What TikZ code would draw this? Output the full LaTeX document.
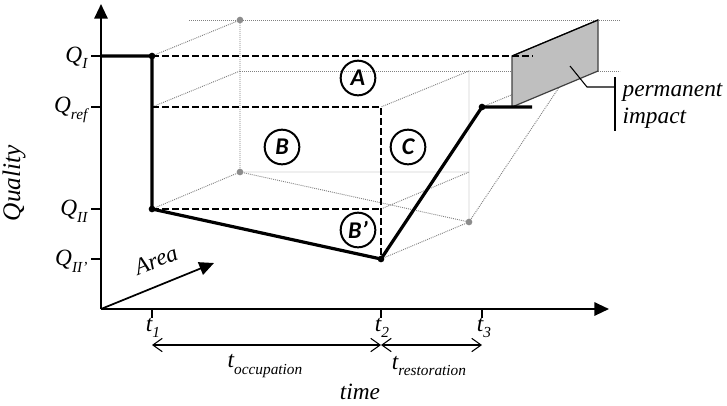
\documentclass[tikz,border=0pt]{standalone}
\usepackage{fontspec}
\setmainfont{Liberation Serif}
\newfontfamily\circfont{Carlito}
\usetikzlibrary{arrows.meta}
% lowered, smaller index text
\newcommand\idx[1]{\raisebox{-0.28em}{\fontsize{11.5}{11.5}\selectfont #1}}
\begin{document}
\begin{tikzpicture}[x=0.75pt,y=-0.75pt,
  axis/.style={line width=1.5pt,-{Triangle[length=11pt,width=10pt]}},
  curve/.style={line width=2.4pt,line join=miter},
  guide/.style={line width=1.2pt,dash pattern=on 5pt off 2.5pt},
  hidden/.style={black!50,line width=0.7pt,dash pattern=on 0.7pt off 0.8pt},
  tick/.style={line width=2pt},
  span/.style={line width=0.8pt,{Straight Barb[length=7pt,width=10pt]}-{Straight Barb[length=7pt,width=10pt]}},
  circ/.style={circle,draw,line width=1.5pt,minimum size=26pt,inner sep=0pt,
    font=\circfont\bfseries\itshape\fontsize{18}{18}\selectfont},
  lbl/.style={inner sep=1pt,font=\itshape\fontsize{17.5}{20}\selectfont},
  dot/.style={circle,fill=black,minimum size=5pt,inner sep=0pt},
  gdot/.style={circle,fill=black!45,minimum size=5pt,inner sep=0pt},
]
\useasboundingbox (0,0) rectangle (727,405);

% axes origin and ends
\coordinate (O) at (101,309);
\coordinate (ytop) at (101,4);
\coordinate (xend) at (609,309);
\coordinate (atip) at (214,263);

% quality path (front face)
\coordinate (p0) at (101,56);
\coordinate (p1) at (152,56);
\coordinate (p2) at (152,209);
\coordinate (p3) at (381,259);
\coordinate (p4) at (482,107);
\coordinate (p5) at (532,107);
\coordinate (qr1) at (152,107);
\coordinate (m2) at (381,107);
\coordinate (n2) at (381,209);
\coordinate (qiend) at (533,56);

% back face, shifted in depth
\coordinate (b1) at (240,20);
\coordinate (br) at (240,71);
\coordinate (b2) at (240,172);
\coordinate (b3) at (469,222);
\coordinate (bm2) at (469,71);
\coordinate (bn2) at (469,172);
\coordinate (b4) at (570,71);
\coordinate (topL) at (189,20);
\coordinate (topR) at (620,20);
\coordinate (midR) at (620,71);

% hidden edges of the box
\draw[hidden] (topL) -- (topR);
\draw[hidden] (br) -- (midR);
\draw[hidden] (p1) -- (b1) -- (b2);
\draw[hidden] (qr1) -- (br);
\draw[hidden] (p2) -- (b2) -- (bn2);
\draw[hidden] (b2) -- (b3);
\draw[hidden] (p3) -- (b3) -- (bm2) -- (m2);
\draw[hidden] (n2) -- (bn2);
\draw[hidden] (b3) -- (b4);
\draw[hidden] (p4) -- (b4);

% permanent impact face
\coordinate (f1) at (512,56);
\coordinate (f2) at (598,20);
\coordinate (f3) at (598,71);
\coordinate (f4) at (512,107);
\draw[fill=black!25,draw=black!75,line width=0.9pt] (f1) -- (f2) -- (f3) -- (f4) -- cycle;
\draw[line width=0.9pt] (f1) -- (f2);

\node[gdot] (g1) at (b1) {};
\node[gdot] (g2) at (b2) {};
\node[gdot] (g3) at (b3) {};

% reference levels
\draw[guide] (p1) -- (qiend);
\draw[guide] (qr1) -- (m2) -- (p3);
\draw[guide] (p2) -- (n2);

% axes
\draw[axis] (O) -- (ytop);
\draw[axis] (O) -- (xend);
\draw[line width=1.3pt,-{Triangle[length=11pt,width=10pt]}] (O) -- (atip);

% quality curve
\draw[curve] (p0) -- (p1) -- (p2) -- (p3) -- (p4) -- (p5);
\node[dot] (d1) at (p1) {};
\node[dot] (d2) at (p2) {};
\node[dot] (d3) at (p3) {};
\node[dot] (d4) at (p4) {};

% ticks on quality axis
\coordinate (yq1) at (91,56);   \coordinate (ay1) at (101,56);
\coordinate (yq2) at (91,107);  \coordinate (ay2) at (101,107);
\coordinate (yq3) at (91,209);  \coordinate (ay3) at (101,209);
\coordinate (yq4) at (91,259);  \coordinate (ay4) at (101,259);
\draw[tick] (yq1) -- (ay1);
\draw[tick] (yq2) -- (ay2);
\draw[tick] (yq3) -- (ay3);
\draw[tick] (yq4) -- (ay4);
\node[lbl,anchor=east] (QI) at (89,58) {Q\idx{I}};
\node[lbl,anchor=east] (Qref) at (89,110) {Q\idx{ref}};
\node[lbl,anchor=east] (QII) at (89,211) {Q\idx{II}};
\node[lbl,anchor=east] (QIIp) at (89,261) {Q\idx{II’}};

% ticks on time axis
\coordinate (tx1) at (152,309); \coordinate (tb1) at (152,318);
\coordinate (tx2) at (381,309); \coordinate (tb2) at (381,318);
\coordinate (tx3) at (482,309); \coordinate (tb3) at (482,318);
\draw[tick] (tx1) -- (tb1);
\draw[tick] (tx2) -- (tb2);
\draw[tick] (tx3) -- (tb3);
\node[lbl] (t1) at (153,328) {t\idx{1}};
\node[lbl] (t2) at (382,328) {t\idx{2}};
\node[lbl] (t3) at (484,328) {t\idx{3}};

% durations
\coordinate (s1) at (152,345);
\coordinate (s2) at (381,345);
\coordinate (s3) at (482,345);
\draw[span] (s1) -- (s2);
\draw[span] (s2) -- (s3);
\node[lbl] (tocc) at (265,366) {t\idx{occupation}};
\node[lbl] (tres) at (429,366) {t\idx{restoration}};
\node[lbl] (time) at (360,392) {time};

% axis names
\node[lbl,rotate=90,font=\itshape\fontsize{19}{20}\selectfont] (qual) at (14,183) {Quality};
\node[lbl,rotate=22] (area) at (156,260) {Area};

% area labels
\node[circ] (cA) at (358,78) {A};
\node[circ] (cB) at (282,147) {B};
\node[circ] (cC) at (408,147) {C};
\node[circ] (cBp) at (358,230) {B’};

% permanent impact annotation
\coordinate (l1) at (570,66);
\coordinate (l2) at (587,87);
\coordinate (l3) at (615,87);
\coordinate (k1) at (615,77);
\coordinate (k2) at (615,131);
\draw[line width=0.8pt] (l1) -- (l2) -- (l3);
\draw[line width=1.6pt] (k1) -- (k2);
\node[lbl,anchor=west,align=left] (perm) at (621,106) {permanent\\impact};
\end{tikzpicture}
\end{document}
